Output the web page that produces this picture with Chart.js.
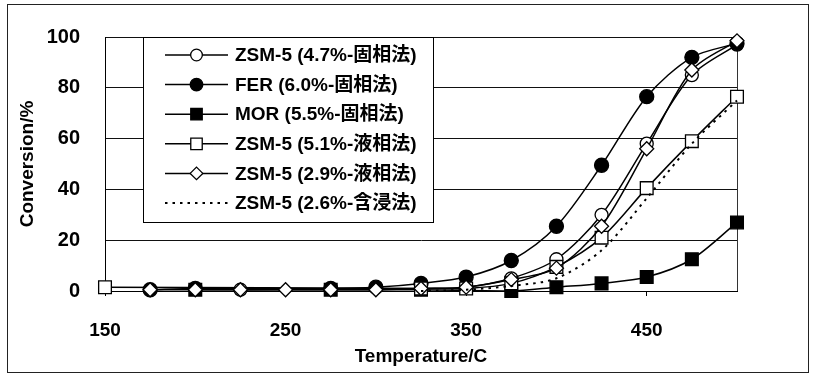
<!DOCTYPE html>
<html>
<head>
<meta charset="utf-8">
<script src="https://cdn.jsdelivr.net/npm/chart.js@4.4.1/dist/chart.umd.min.js"></script>
<style>
  html, body { margin: 0; padding: 0; background: #fff; }
  #wrap { position: relative; width: 816px; height: 377px; }
</style>
</head>
<body>
<div id="wrap"><canvas id="chart" width="816" height="377"></canvas></div>
<script>
// Reaction temperature (°C) and conversion (%) for each catalyst
const temperatures = [150, 175, 200, 225, 250, 275, 300, 325, 350, 375, 400, 425, 450, 475, 500];

const zsm47Solid   = [null, null, null, 0.5, null, 0.8, null, 1, 1.5, 5, 12.5, 30, 58, 85, 97];
const fer60Solid   = [null, 0.5, 1, null, null, 1, 1.5, 3, 5.5, 12, 25.5, 49.5, 76.5, 92, 97.5];
const mor55Solid   = [null, null, 0.5, null, null, 0.5, null, 0.5, null, 0, 1.5, 3, 5.5, 12.5, 27];
const zsm51Liquid  = [1.5, null, null, null, null, null, null, 1, 1, 3, 9.5, 21, 40.5, 59, 76.5];
const zsm29Liquid  = [null, 0.5, 0.5, 0.5, 0.5, 0.5, 0.5, 1, 1.5, 4.5, 9, 25.5, 56, 87, 98.5];
const zsm26Impreg  = [null, null, null, null, null, null, null, 0, 0.5, 2, 5, 16, 36.5, 58, 75];

const seriesLabels = [
  'ZSM-5 (4.7%-固相法)',
  'FER (6.0%-固相法)',
  'MOR (5.5%-固相法)',
  'ZSM-5 (5.1%-液相法)',
  'ZSM-5 (2.9%-液相法)',
  'ZSM-5 (2.6%-含浸法)'
];

const xTickValues = [150, 250, 350, 450];
const yTickStep = 20;

const FONT = '"Liberation Sans", Arial, "Noto Sans CJK JP", sans-serif';

function toPoints(values) {
  const pts = [];
  values.forEach((v, i) => { if (v !== null) pts.push({ x: temperatures[i], y: v }); });
  return pts;
}

const styles = [
  { pointStyle: 'circle',  pointRadius: 6.5, fill: '#fff' },
  { pointStyle: 'circle',  pointRadius: 7,   fill: '#000' },
  { pointStyle: 'rect',    pointRadius: 9,   fill: '#000' },
  { pointStyle: 'rect',    pointRadius: 9,   fill: '#fff' },
  { pointStyle: 'rectRot', pointRadius: 7,   fill: '#fff' },
  { pointStyle: false,     pointRadius: 0,   fill: '#000', dash: [2.5, 5] }
];
const seriesValues = [zsm47Solid, fer60Solid, mor55Solid, zsm51Liquid, zsm29Liquid, zsm26Impreg];

const datasets = seriesValues.map((vals, i) => ({
  label: seriesLabels[i],
  data: toPoints(vals),
  borderColor: '#000',
  borderWidth: styles[i].dash ? 2 : 1.5,
  borderDash: styles[i].dash || [],
  backgroundColor: styles[i].fill,
  pointBackgroundColor: styles[i].fill,
  pointBorderColor: '#000',
  pointBorderWidth: 1.3,
  pointStyle: styles[i].pointStyle,
  pointRadius: styles[i].pointRadius,
  pointHoverRadius: styles[i].pointRadius,
  tension: 0.3,
  clip: false,
  order: seriesValues.length - i
}));

// Page frame and plot-area right edge
const framePlugin = {
  id: 'frame',
  beforeDraw(chart) {
    const { ctx } = chart;
    ctx.save();
    ctx.fillStyle = '#fff';
    ctx.fillRect(0, 0, chart.width, chart.height);
    ctx.strokeStyle = '#222';
    ctx.lineWidth = 1;
    ctx.strokeRect(7.5, 4.5, 801, 368);
    ctx.restore();
  },
  beforeDatasetsDraw(chart) {
    const { ctx, chartArea: a } = chart;
    ctx.save();
    ctx.strokeStyle = '#333';
    ctx.lineWidth = 1;
    ctx.beginPath();
    ctx.moveTo(Math.round(a.right) + 0.5, a.top);
    ctx.lineTo(Math.round(a.right) + 0.5, a.bottom);
    ctx.stroke();
    ctx.restore();
  }
};

function drawMarker(ctx, style, r, x, y, fill) {
  ctx.beginPath();
  if (style === 'circle') {
    ctx.arc(x, y, r, 0, Math.PI * 2);
  } else if (style === 'rect') {
    const s = Math.SQRT1_2 * r;
    ctx.rect(x - s, y - s, 2 * s, 2 * s);
  } else if (style === 'rectRot') {
    ctx.moveTo(x - r, y); ctx.lineTo(x, y - r); ctx.lineTo(x + r, y); ctx.lineTo(x, y + r);
    ctx.closePath();
  } else {
    return;
  }
  ctx.fillStyle = fill;
  ctx.fill();
  ctx.lineWidth = 1.3;
  ctx.strokeStyle = '#000';
  ctx.stroke();
}

// Key box with line-and-marker samples
const keyPlugin = {
  id: 'seriesKey',
  afterDraw(chart) {
    const { ctx } = chart;
    const bx = 143.5, by = 37.5, bw = 290, bh = 185;
    ctx.save();
    ctx.fillStyle = '#fff';
    ctx.fillRect(bx, by, bw, bh);
    ctx.strokeStyle = '#000';
    ctx.lineWidth = 1;
    ctx.strokeRect(bx, by, bw, bh);
    ctx.font = 'bold 19px ' + FONT;
    ctx.textBaseline = 'middle';
    ctx.textAlign = 'left';
    chart.data.datasets.forEach((ds, i) => {
      const y = 55 + i * 29.6;
      ctx.save();
      ctx.strokeStyle = '#000';
      ctx.lineWidth = ds.borderWidth;
      ctx.setLineDash(ds.borderDash || []);
      ctx.beginPath();
      ctx.moveTo(165, y);
      ctx.lineTo(228, y);
      ctx.stroke();
      ctx.restore();
      drawMarker(ctx, ds.pointStyle, ds.pointRadius * 0.9, 196.5, y, ds.pointBackgroundColor);
      ctx.fillStyle = '#000';
      ctx.fillText(ds.label, 235, y + 1);
    });
    ctx.restore();
  }
};

new Chart(document.getElementById('chart'), {
  type: 'line',
  data: { datasets },
  options: {
    responsive: false,
    animation: false,
    devicePixelRatio: 1,
    layout: { padding: { left: 0, right: 79, top: 33, bottom: 0 } },
    plugins: {
      legend: { display: false },
      tooltip: { enabled: false }
    },
    scales: {
      x: {
        type: 'linear',
        min: 150,
        max: 500,
        afterBuildTicks: s => { s.ticks = xTickValues.map(v => ({ value: v })); },
        afterFit: s => { s.height = 86; },
        grid: { drawOnChartArea: false, drawTicks: true, tickLength: 5, color: '#000' },
        border: { display: true, color: '#000', width: 1 },
        ticks: {
          color: '#000',
          font: { family: FONT, size: 19, weight: 'bold' },
          padding: 23,
          maxRotation: 0,
          autoSkip: false
        },
        title: {
          display: true,
          text: 'Temperature/C',
          color: '#000',
          font: { family: FONT, size: 19, weight: 'bold' },
          padding: { top: 0, bottom: 9 }
        }
      },
      y: {
        min: 0,
        max: 100,
        afterFit: s => { s.width = 105; },
        grid: { color: '#111', lineWidth: 1, drawTicks: false },
        border: { display: true, color: '#000', width: 1 },
        ticks: {
          stepSize: yTickStep,
          color: '#000',
          font: { family: FONT, size: 20, weight: 'bold' },
          padding: 25
        },
        title: {
          display: true,
          text: 'Conversion/%',
          color: '#000',
          font: { family: FONT, size: 19, weight: 'bold' },
          padding: { top: 16, bottom: 0 }
        }
      }
    }
  },
  plugins: [framePlugin, keyPlugin]
});
</script>
</body>
</html>
